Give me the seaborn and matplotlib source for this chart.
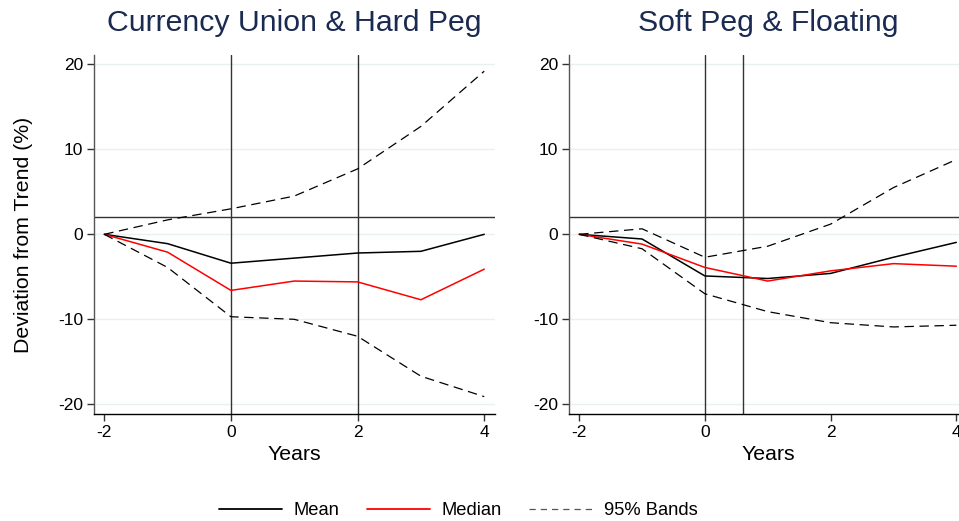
import numpy as np
import pandas as pd
import matplotlib.pyplot as plt
from matplotlib.lines import Line2D
import seaborn as sns

# event-time (years relative to crisis)
years = [-2, -1, 0, 1, 2, 3, 4]

# Currency Union & Hard Peg
cu_mean = [0, -1.1, -3.4, -2.8, -2.2, -2.0, 0.0]
cu_median = [0, -2.1, -6.6, -5.5, -5.6, -7.7, -4.1]
cu_upper = [0, 1.7, 3.0, 4.5, 7.7, 12.7, 19.2]
cu_lower = [0, -3.9, -9.7, -10.0, -12.0, -16.7, -19.1]
cu_vlines = [0, 2]

# Soft Peg & Floating
sp_mean = [0, -0.55, -4.9, -5.2, -4.6, -2.7, -0.95]
sp_median = [0, -1.15, -3.9, -5.5, -4.3, -3.45, -3.75]
sp_upper = [0, 0.65, -2.7, -1.4, 1.2, 5.5, 8.8]
sp_lower = [0, -1.7, -7.0, -9.1, -10.4, -10.9, -10.7]
sp_vlines = [0, 0.6]

hline_y = 2
titles = ['Currency Union & Hard Peg', 'Soft Peg & Floating']
legend_labels = ['Mean', 'Median', '95% Bands']
yticks = [-20, -10, 0, 10, 20]
xticks = [-2, 0, 2, 4]

sns.set_theme(style='white')
plt.rcParams['font.family'] = ['Liberation Sans', 'DejaVu Sans']
plt.rcParams['axes.unicode_minus'] = False

fig = plt.figure(figsize=(9.59, 5.21), dpi=100)
ax1 = fig.add_axes([0.0983, 0.2048, 0.4178, 0.6896])
ax2 = fig.add_axes([0.5936, 0.2048, 0.4147, 0.6896])

panels = [
    (ax1, cu_mean, cu_median, cu_upper, cu_lower, cu_vlines, titles[0]),
    (ax2, sp_mean, sp_median, sp_upper, sp_lower, sp_vlines, titles[1]),
]
dash = (0, (7.5, 4.5))

for ax, mean, median, upper, lower, vl, title in panels:
    ax.set_xlim(-2.158, 4.169)
    ax.set_ylim(-21.18, 21.1)
    ax.set_yticks(yticks)
    ax.set_xticks(xticks)
    ax.grid(axis='y', color='#e8f0f2', lw=1)
    ax.grid(axis='x', visible=False)
    for v in vl:
        ax.axvline(v, color='#333333', lw=1)
    ax.axhline(hline_y, color='#333333', lw=1)
    sns.lineplot(x=years, y=mean, ax=ax, color='black', lw=1.1)
    sns.lineplot(x=years, y=median, ax=ax, color='red', lw=1.1)
    sns.lineplot(x=years, y=upper, ax=ax, color='black', lw=0.9, linestyle=dash)
    sns.lineplot(x=years, y=lower, ax=ax, color='black', lw=0.9, linestyle=dash)
    ax.set_title(title, fontsize=21.8, color='#1a2a50', pad=17)
    ax.set_xlabel('Years', fontsize=15.3, labelpad=3, color='black')
    ax.set_ylabel('')
    for s in ['top', 'right']:
        ax.spines[s].set_visible(False)
    ax.spines['left'].set_color('#555555')
    ax.spines['bottom'].set_color('black')
    ax.spines['left'].set_linewidth(1)
    ax.spines['bottom'].set_linewidth(1)
    ax.tick_params(axis='both', direction='out', length=5, width=1, color='#333333',
                   labelcolor='black', labelsize=12.5, left=True, bottom=True, pad=3)

ax1.set_ylabel('Deviation from Trend (%)', fontsize=15.3, labelpad=18, color='black')

handles = [
    Line2D([], [], color='black', lw=1.3),
    Line2D([], [], color='red', lw=1.3),
    Line2D([], [], color='#555555', lw=0.9, linestyle=(0, (5, 4))),
]
fig.legend(handles, legend_labels, loc='center', bbox_to_anchor=(0.478, 0.02), ncol=3,
           frameon=False, fontsize=13.2, handlelength=3.45, handletextpad=0.65,
           columnspacing=1.47, labelcolor='black')

fig.savefig('out.png', dpi=100)
